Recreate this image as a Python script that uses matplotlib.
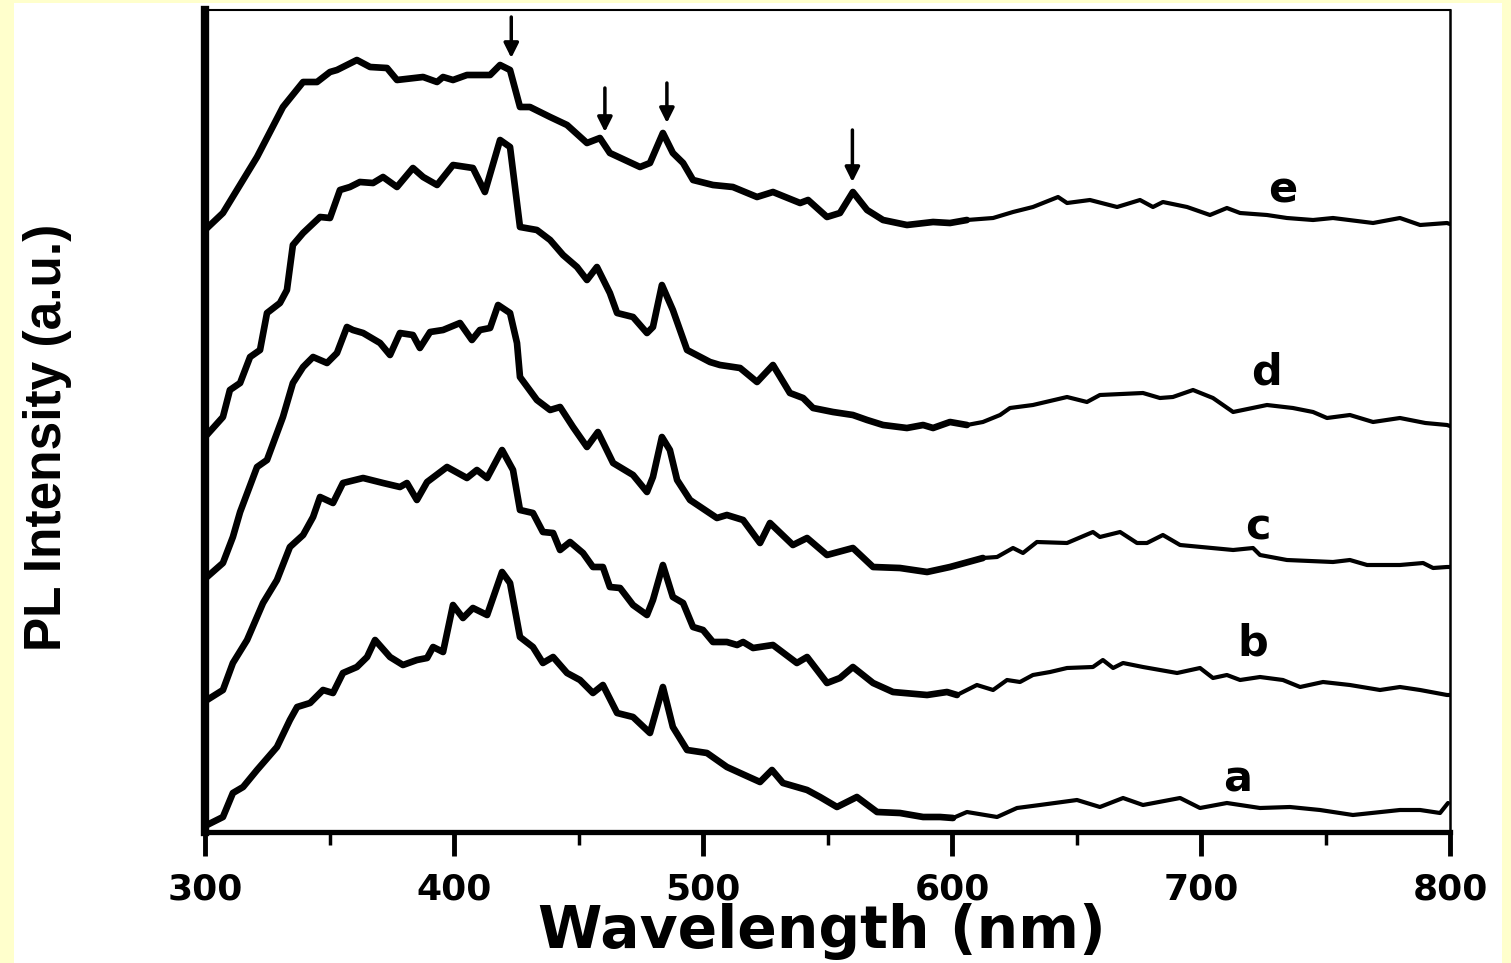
import matplotlib
matplotlib.use("Agg")
import matplotlib.pyplot as plt
import numpy as np
from matplotlib.patches import Rectangle
from matplotlib.ticker import MultipleLocator

# spectra (wavelength in nm, intensity in a.u.)
wl_e = [300, 307.2, 320.9, 331.3, 339.4, 345.0, 350.2, 353.0, 361.0, 366.3, 373.1, 377.1, 387.6, 393.2, 395.6,
        399.6, 405.2, 414.5, 418.5, 422.5, 426.5, 430.5, 438.6, 445.4, 453.4, 458.6, 462.6, 474.7, 478.7, 483.9,
        487.9, 492.0, 496.0, 504.0, 512.0, 521.7, 528.1, 539.0, 542.2, 549.8, 555.0, 560.2, 565.9, 572.3, 581.9,
        592.4, 599.2, 606.0, 616.5, 624.5, 632.5, 642.6, 646.2, 655.4, 666.3, 675.5, 680.7, 684.7, 694.4, 703.6,
        710.4, 715.7, 726.5, 734.5, 745.0, 753.0, 769.1, 779.9, 788.0, 798.8, 800]
int_e = [602, 619, 675, 725, 750, 750, 760, 762, 772, 765, 764, 752, 755, 750, 755,
         752, 757, 757, 767, 762, 725, 725, 715, 707, 689, 694, 679, 665, 669, 699,
         679, 669, 652, 647, 645, 635, 640, 629, 632, 615, 619, 640, 622, 612, 607,
         610, 609, 612, 614, 620, 625, 635, 629, 632, 625, 632, 625, 630, 625, 617,
         624, 619, 617, 614, 612, 614, 609, 614, 607, 609, 608]

wl_d = [300, 307.2, 310.0, 314.1, 318.1, 322.1, 324.9, 330.1, 332.9, 335.3, 339.4, 346.2, 350.2, 354.2, 358.2,
        362.2, 367.5, 371.5, 377.1, 383.5, 387.6, 393.2, 399.6, 407.6, 412.4, 418.5, 422.5, 426.5, 433.3, 438.6,
        443.8, 449.4, 453.4, 457.4, 462.6, 465.5, 471.9, 477.5, 479.9, 483.5, 487.9, 493.6, 502.8, 506.8, 514.9,
        521.7, 528.1, 534.9, 540.2, 544.2, 552.2, 560.2, 565.9, 572.3, 581.9, 588.4, 592.4, 599.2, 606.0, 612.4,
        619.3, 623.3, 632.5, 646.2, 654.2, 659.4, 676.7, 683.5, 688.7, 696.8, 704.8, 712.9, 726.5, 736.9, 745.0,
        750.6, 759.8, 769.1, 779.9, 790.1, 798.8, 800]
int_d = [395, 415, 442, 449, 475, 482, 519, 529, 542, 587, 599, 615, 614, 642, 645,
         650, 649, 655, 645, 664, 655, 647, 667, 664, 640, 692, 685, 605, 602, 592,
         577, 565, 552, 565, 539, 519, 515, 499, 505, 547, 522, 482, 470, 467, 464,
         450, 467, 439, 434, 424, 420, 417, 412, 407, 404, 407, 404, 410, 407, 410,
         417, 424, 427, 435, 430, 437, 439, 434, 435, 442, 434, 420, 427, 424, 420,
         414, 417, 410, 414, 409, 407, 406]

wl_c = [300.8, 307.2, 311.2, 314.1, 320.9, 324.9, 331.3, 335.3, 339.4, 343.4, 349.0, 353.0, 357.0, 359.4, 363.5,
        370.3, 374.3, 378.3, 383.5, 386.3, 390.4, 395.6, 402.4, 407.2, 410.4, 414.5, 417.7, 422.5, 425.3, 426.5,
        433.3, 438.6, 442.6, 447.8, 453.4, 457.8, 463.9, 471.9, 477.5, 479.9, 483.5, 486.7, 489.6, 494.8, 505.6,
        509.6, 516.1, 522.9, 526.9, 536.1, 541.8, 549.8, 560.2, 568.3, 579.1, 590.0, 599.2, 612.4, 618.1, 624.5,
        628.5, 634.1, 646.2, 656.6, 659.4, 667.5, 674.3, 678.3, 684.7, 691.6, 712.9, 720.9, 723.7, 734.5, 753.0,
        759.8, 766.7, 779.9, 789.2, 793.2, 798.8, 800]
int_c = [255, 269, 295, 320, 365, 372, 415, 449, 465, 475, 469, 479, 505, 502, 499,
         489, 477, 499, 497, 484, 500, 502, 509, 492, 502, 504, 527, 519, 489, 455,
         432, 422, 425, 405, 385, 400, 369, 357, 340, 355, 395, 382, 352, 332, 314,
         317, 312, 289, 309, 287, 294, 277, 284, 265, 264, 260, 265, 274, 275, 284,
         279, 290, 289, 300, 295, 300, 289, 289, 297, 287, 282, 284, 277, 272, 270,
         272, 267, 267, 269, 264, 265, 265]

wl_b = [300.8, 307.2, 311.2, 316.9, 323.3, 328.9, 334.1, 339.4, 343.4, 346.2, 351.4, 355.4, 363.5, 371.5, 378.3,
        381.1, 385.1, 389.2, 397.2, 405.2, 409.2, 413.3, 419.3, 423.7, 426.5, 431.7, 435.7, 439.8, 442.6, 446.6,
        451.8, 455.8, 459.8, 462.6, 466.7, 471.9, 477.5, 479.9, 483.9, 487.9, 492.0, 496.0, 500.0, 504.0, 509.6,
        513.7, 516.1, 520.1, 528.1, 537.7, 541.8, 549.8, 555.0, 560.2, 568.3, 576.3, 590.0, 598.0, 602.0, 610.0,
        616.5, 622.1, 627.3, 632.5, 639.4, 646.2, 656.6, 660.6, 664.7, 668.7, 676.7, 690.4, 699.6, 704.8, 710.4,
        715.7, 723.7, 732.9, 739.8, 749.0, 759.8, 771.9, 779.9, 788.0, 798.8, 800]
int_b = [132, 142, 169, 192, 229, 252, 285, 297, 315, 335, 329, 349, 354, 349, 345,
         349, 332, 350, 365, 354, 362, 354, 382, 362, 322, 319, 300, 299, 282, 290,
         279, 265, 265, 245, 244, 227, 217, 232, 267, 235, 229, 205, 202, 190, 190,
         187, 190, 184, 187, 169, 175, 149, 154, 165, 149, 140, 137, 140, 137, 147,
         142, 152, 150, 157, 160, 164, 165, 172, 164, 169, 165, 159, 164, 154, 157,
         152, 155, 152, 145, 150, 147, 142, 145, 142, 137, 137]

wl_a = [300.8, 307.2, 311.2, 315.3, 320.9, 328.9, 334.1, 337.0, 342.2, 347.4, 351.4, 355.4, 361.0, 365.1, 368.3,
        374.3, 379.5, 385.1, 389.2, 391.6, 395.6, 399.6, 403.6, 407.6, 413.3, 419.3, 422.5, 426.5, 431.7, 435.7,
        439.8, 445.4, 450.6, 455.8, 459.8, 465.5, 471.9, 478.7, 483.9, 487.9, 493.6, 501.6, 509.6, 514.9, 522.9,
        527.7, 532.1, 541.8, 547.0, 553.8, 561.8, 569.9, 579.1, 588.4, 595.2, 600.4, 606.0, 618.1, 626.1, 635.3,
        650.2, 659.4, 668.7, 676.7, 691.6, 699.6, 710.4, 723.7, 735.7, 747.8, 761.0, 779.9, 788.0, 796.0, 799.2]
int_a = [7, 15, 39, 45, 62, 85, 112, 125, 129, 142, 139, 159, 165, 175, 192,
         175, 167, 172, 174, 185, 180, 227, 214, 224, 217, 260, 249, 195, 185, 169,
         175, 159, 152, 139, 147, 119, 115, 99, 145, 105, 82, 79, 65, 59, 50,
         62, 49, 42, 35, 25, 35, 20, 19, 15, 15, 14, 20, 15, 24, 27,
         32, 25, 34, 27, 34, 24, 29, 24, 25, 22, 17, 22, 22, 19, 29]

labels = ['a', 'b', 'c', 'd', 'e']
label_wl = [714.9, 720.9, 722.9, 726.5, 732.9]
label_int = [52, 189, 305, 460, 642]

# arrows over curve e: wavelength, tail, head
arrow_wl = [423, 460.6, 485.5, 560]
arrow_top = [815, 744, 749, 702]
arrow_tip = [774, 700, 709, 650]


def draw_curve(ax, wl, inten):
    wl = np.array(wl)
    inten = np.array(inten)
    # the scan has a heavier trace below ~600 nm
    i = np.searchsorted(wl, 600)
    ax.plot(wl[:i + 1], inten[:i + 1], color='black', lw=4.8, solid_joinstyle='round', solid_capstyle='round')
    ax.plot(wl[i:], inten[i:], color='black', lw=3.0, solid_joinstyle='round', solid_capstyle='round')


fig = plt.figure(figsize=(15.11, 9.63), dpi=100)
fig.patch.set_facecolor('#FFFFCC')
fig.add_artist(Rectangle((14 / 1511, 0), 1488 / 1511, 960 / 963, transform=fig.transFigure,
                         facecolor='white', edgecolor='none', zorder=0))

ax = fig.add_axes([205 / 1511, 1 - 832 / 963, 1245 / 1511, 822 / 963])
ax.set_facecolor('white')

for wl, inten in [(wl_a, int_a), (wl_b, int_b), (wl_c, int_c), (wl_d, int_d), (wl_e, int_e)]:
    draw_curve(ax, wl, inten)

for lab, x, y in zip(labels, label_wl, label_int):
    ax.text(x, y, lab, fontsize=31, fontweight='bold', ha='center', va='center', family='DejaVu Sans')

for x, y0, y1 in zip(arrow_wl, arrow_top, arrow_tip):
    ax.annotate('', xy=(x, y1), xytext=(x, y0),
                arrowprops=dict(arrowstyle='-|>', color='black', lw=2.5, mutation_scale=22,
                                shrinkA=0, shrinkB=0))

ax.set_xlim(300, 800)
ax.set_ylim(0, 822)
ax.set_yticks([])
ax.xaxis.set_major_locator(MultipleLocator(100))
ax.xaxis.set_minor_locator(MultipleLocator(50))
ax.tick_params(axis='x', which='major', direction='out', length=17, width=3.5, pad=12)
ax.tick_params(axis='x', which='minor', direction='out', length=9, width=2.5)
for lab in ax.get_xticklabels():
    lab.set_fontsize(26)
    lab.set_fontweight('bold')

ax.spines['left'].set_linewidth(6)
ax.spines['bottom'].set_linewidth(3.8)
ax.spines['top'].set_linewidth(1.5)
ax.spines['right'].set_linewidth(1.8)

fig.text(822 / 1511, 1 - 948 / 963, 'Wavelength (nm)', fontsize=42, fontweight='bold',
         ha='center', va='baseline')
fig.text(48 / 1511, 1 - 437 / 963, 'PL Intensity (a.u.)', fontsize=37, fontweight='bold',
         rotation=90, ha='center', va='center', family=['Liberation Sans Narrow', 'Liberation Sans'])

fig.savefig('out.png', dpi=100, facecolor=fig.get_facecolor())
